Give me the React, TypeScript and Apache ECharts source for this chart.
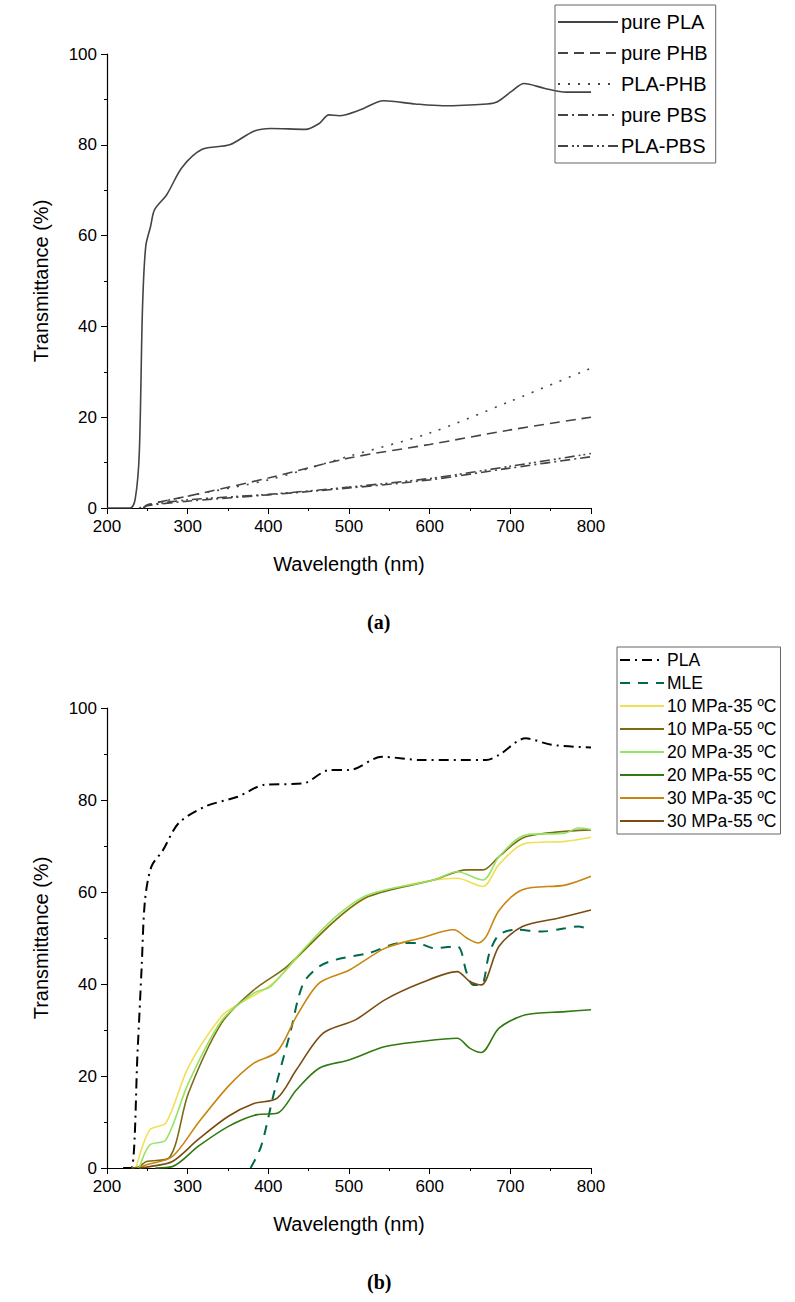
import { useEffect, useRef } from "react";
import * as echarts from "echarts";

// ---- panel (a) ----
const pla_a = [[200,0],[229,0],[235,2],[240,12],[244,44],[248,57.6],[254,62],[259,65.7],[274,69],[293,75],[318,79],[352,80],[382,83],[403,83.6],[446,83.4],[463,84.7],[475,86.6],[488,86.4],[514,87.7],[543,89.7],[582,89],[616,88.6],[671,89],[684,89.5],[701,91.7],[717,93.5],[743,92.4],[769,91.6],[800,91.6]];
const plaPhb_a = [[240,0],[250,0.7],[300,2.6],[400,6.2],[500,11.4],[600,16.5],[700,23.5],[800,30.8]];
const phb_a = [[245,0],[250,0.7],[300,2.6],[400,6.6],[500,11],[600,14],[700,17.2],[800,20]];
const pbs_a = [[245,0],[250,0.5],[300,1.5],[400,2.9],[500,4.4],[600,6.2],[700,8.8],[800,11.3]];
const plaPbs_a = [[245,0],[250,0.6],[300,1.8],[400,3],[500,4.6],[600,6.5],[700,9.2],[800,12]];

// ---- panel (b) ----
const pla_b = [[220,0],[230,0],[238,25.7],[243,43.8],[247,58],[255,65.5],[269,69],[289,75],[322,78.6],[362,80.7],[395,83.3],[443,83.6],[476,86.5],[500,86.5],[541,89.4],[589,88.7],[670,88.7],[686,89.8],[719,93.4],[751,92],[800,91.4]];
const mle_b = [[378,0],[391,4.7],[407,16.3],[427,29.3],[443,40],[463,43.8],[484,45.3],[524,46.7],[565,48.9],[585,48.9],[605,47.8],[634,48.2],[646,42.4],[654,39.8],[664,39.8],[674,46.7],[686,50.7],[707,51.8],[739,51.4],[768,52.1],[784,52.5],[800,51.8]];
const m10_35 = [[236,0],[253,8.3],[273,9.8],[301,22],[342,33],[362,35.5],[403,39.8],[443,47],[484,54],[524,59],[565,61.2],[605,62.6],[634,63],[666,61.2],[686,66],[719,70.6],[768,71],[800,71.9]];
const m10_55 = [[230,0],[240,0.3],[249,1.4],[277,2.2],[301,16.3],[342,31.5],[382,38.7],[423,43.8],[484,54],[524,59],[605,62.6],[646,64.8],[666,64.8],[686,67.7],[719,72],[800,73.5]];
const m20_35 = [[240,0],[253,5],[273,6.1],[301,18.5],[342,32],[382,38],[403,39.5],[443,47.4],[484,54.7],[524,59.4],[605,62.6],[634,64.4],[666,62.6],[686,67.7],[719,72.4],[768,72.8],[784,73.9],[800,73.6]];
const m20_55 = [[260,0],[281,0.3],[313,4.7],[350,9],[386,11.6],[411,11.9],[435,17],[463,21.7],[500,23.5],[545,26.4],[589,27.5],[634,28.2],[650,26],[664,25.1],[686,30.4],[719,33.3],[768,34],[800,34.4]];
const m30_35 = [[240,0],[249,0.7],[281,2.5],[313,9.8],[350,17.7],[382,22.8],[411,25.3],[435,33],[463,40.2],[500,43],[545,47.8],[589,50],[630,51.8],[646,50],[660,48.9],[670,50.3],[686,56],[715,60.5],[768,61.5],[800,63.4]];
const m30_55 = [[240,0],[253,0.3],[281,1.4],[313,6.2],[350,11.2],[382,14],[411,15.2],[435,21.4],[468,29.3],[508,32.2],[545,36.6],[589,40.2],[634,42.7],[650,40.5],[664,39.8],[686,48.2],[715,52.5],[759,54.3],[800,56.1]];

const FONT = "Liberation Sans, Arial, sans-serif";

export default function App() {
  const ref = useRef<HTMLDivElement>(null);

  useEffect(() => {
    if (!ref.current) return;
    const chart = echarts.init(ref.current, null, { renderer: "svg" });
    const gray = "#444";
    const mk = (name: string, data: number[][], idx: number, color: string, type: any, width = 1.6) => ({
      name, type: "line", data, xAxisIndex: idx, yAxisIndex: idx, showSymbol: false, symbol: "none",
      lineStyle: { color, type, width }, itemStyle: { color }, smooth: 0.3,
    });
    const xAx = (gi: number) => ({
      type: "value", gridIndex: gi, min: 200, max: 800, interval: 100,
      name: "Wavelength (nm)", nameLocation: "middle", nameGap: 46,
      nameTextStyle: { fontSize: 20, color: "#000", fontFamily: FONT },
      axisLine: { show: true, lineStyle: { color: "#000", width: 1.2 } },
      axisTick: { show: true, inside: false, length: 6, lineStyle: { color: "#000" } },
      minorTick: { show: true, splitNumber: 2, length: 3, lineStyle: { color: "#000" } },
      axisLabel: { fontSize: 17, color: "#000", fontFamily: FONT, margin: 10 },
      splitLine: { show: false },
    });
    const yAx = (gi: number) => ({
      type: "value", gridIndex: gi, min: 0, max: 100, interval: 20,
      name: "Transmittance (%)", nameLocation: "middle", nameGap: 56,
      nameTextStyle: { fontSize: 20, color: "#000", fontFamily: FONT },
      axisLine: { show: true, lineStyle: { color: "#000", width: 1.2 } },
      axisTick: { show: true, inside: false, length: 6, lineStyle: { color: "#000" } },
      minorTick: { show: true, splitNumber: 2, length: 3, lineStyle: { color: "#000" } },
      axisLabel: { fontSize: 17, color: "#000", fontFamily: FONT, margin: 10 },
      splitLine: { show: false },
    });
    chart.setOption({
      animation: false,
      grid: [
        { left: 107, top: 54, width: 484, height: 454 },
        { left: 107, top: 708, width: 484, height: 460 },
      ],
      xAxis: [xAx(0), xAx(1)],
      yAxis: [yAx(0), yAx(1)],
      legend: [
        {
          orient: "vertical", left: 555, top: 5, itemWidth: 60, itemHeight: 10, itemGap: 11,
          borderColor: "#666", borderWidth: 1, padding: [7, 8, 7, 2],
          itemStyle: { opacity: 0 },
          textStyle: { fontSize: 20, color: "#000", fontFamily: FONT, padding: [0, 0, 0, -2] },
          data: ["pure PLA", "pure PHB", "PLA-PHB", "pure PBS", "PLA-PBS"],
        },
        {
          orient: "vertical", left: 617, top: 647, itemWidth: 44, itemHeight: 10, itemGap: 5,
          borderColor: "#666", borderWidth: 1, padding: [4, 4, 4, 2],
          itemStyle: { opacity: 0 },
          textStyle: { fontSize: 17.5, color: "#000", fontFamily: FONT, padding: [0, 0, 0, -2] },
          data: ["PLA", "MLE", "10 MPa-35 ºC", "10 MPa-55 ºC", "20 MPa-35 ºC", "20 MPa-55 ºC", "30 MPa-35 ºC", "30 MPa-55 ºC"],
        },
      ],
      graphic: [
        { type: "text", left: 367, top: 612, style: { text: "(a)", font: "bold 20px 'Liberation Serif', serif", fill: "#000" } },
        { type: "text", left: 367, top: 1272, style: { text: "(b)", font: "bold 20px 'Liberation Serif', serif", fill: "#000" } },
      ],
      series: [
        mk("pure PLA", pla_a, 0, gray, "solid"),
        mk("pure PHB", phb_a, 0, gray, [10, 6]),
        mk("PLA-PHB", plaPhb_a, 0, gray, [2, 8]),
        mk("pure PBS", pbs_a, 0, gray, [10, 4, 2, 4]),
        mk("PLA-PBS", plaPbs_a, 0, gray, [10, 4, 2, 3, 2, 4]),
        mk("PLA", pla_b, 1, "#000", [10, 5, 2, 5], 2),
        mk("MLE", mle_b, 1, "#00684e", [10, 8], 2),
        mk("10 MPa-35 ºC", m10_35, 1, "#efe055", "solid"),
        mk("10 MPa-55 ºC", m10_55, 1, "#7b6b12", "solid"),
        mk("20 MPa-35 ºC", m20_35, 1, "#94e462", "solid"),
        mk("20 MPa-55 ºC", m20_55, 1, "#2f7a12", "solid"),
        mk("30 MPa-35 ºC", m30_35, 1, "#c8860e", "solid"),
        mk("30 MPa-55 ºC", m30_55, 1, "#7a4c12", "solid"),
      ],
    });
    return () => chart.dispose();
  }, []);

  return <div ref={ref} style={{ position: "absolute", left: 0, top: 0, width: 795, height: 1302, background: "#fff" }} />;
}
